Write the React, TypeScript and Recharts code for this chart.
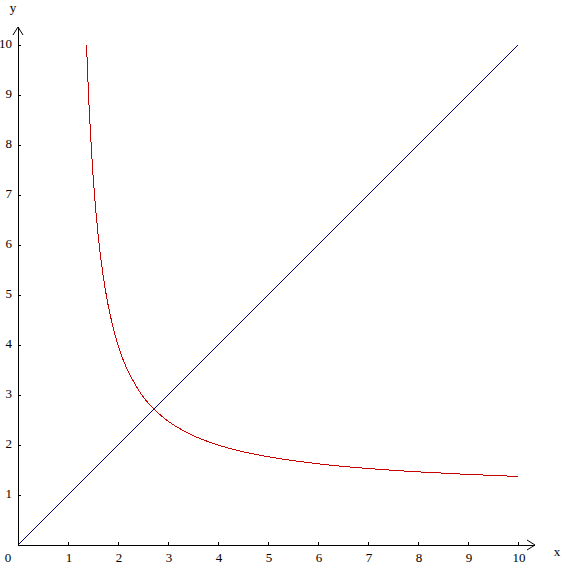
import React from "react";
import { LineChart, Line, XAxis, YAxis, ReferenceDot } from "recharts";

// y = x diagonal
const lineX = [0, 10];
const lineY = [0, 10];

// red curve
const curveX = [1.371, 1.38, 1.39, 1.4, 1.42, 1.45, 1.5, 1.55, 1.6, 1.7, 1.8, 1.9, 2.0, 2.1, 2.2, 2.35, 2.478, 2.718, 3, 3.5, 4, 4.5, 5, 6, 7, 8, 9, 10];
const curveY = [10, 9.76, 9.5, 9.26, 8.81, 8.22, 7.41, 6.76, 6.22, 5.41, 4.81, 4.36, 4.0, 3.71, 3.48, 3.2, 3.0, 2.718, 2.478, 2.19, 2.0, 1.865, 1.766, 1.624, 1.53, 1.463, 1.412, 1.371];

const xTicks = [0, 1, 2, 3, 4, 5, 6, 7, 8, 9, 10];
const yTicks = [1, 2, 3, 4, 5, 6, 7, 8, 9, 10];

const lineData = lineX.map((x, i) => ({ x, y: lineY[i] }));
const curveData = curveX.map((x, i) => ({ x, y: curveY[i] }));

const font = "'Liberation Serif', 'Times New Roman', serif";

const XTick = (props: any) => {
  const { x, y, payload } = props;
  if (payload.value === 0) {
    return (
      <text x={x - 10} y={y + 17} textAnchor="middle" fontFamily={font} fontSize={13} fill="#000">
        0
      </text>
    );
  }
  return (
    <g>
      <line x1={x} y1={y} x2={x} y2={y - 3} stroke="#000" shapeRendering="crispEdges" />
      <text x={x + 1} y={y + 17} textAnchor="middle" fontFamily={font} fontSize={13} fill="#000">
        {payload.value}
      </text>
    </g>
  );
};

const YTick = (props: any) => {
  const { x, y, payload } = props;
  return (
    <g>
      <line x1={x} y1={y} x2={x + 3} y2={y} stroke="#000" shapeRendering="crispEdges" />
      <text x={x - 6} y={y + 3} textAnchor="end" fontFamily={font} fontSize={13} fill="#000">
        {payload.value}
      </text>
    </g>
  );
};

const XArrow = (props: any) => {
  const { cx, cy } = props;
  return (
    <g>
      <path d={`M${cx - 8},${cy - 5} L${cx},${cy} L${cx - 8},${cy + 5}`} stroke="#000" fill="none" />
      <text x={cx + 22} y={cy + 11} textAnchor="middle" fontFamily={font} fontSize={13} fill="#000">
        x
      </text>
    </g>
  );
};

const YArrow = (props: any) => {
  const { cx, cy } = props;
  return (
    <g>
      <path d={`M${cx - 5},${cy + 8} L${cx},${cy} L${cx + 5},${cy + 8}`} stroke="#000" fill="none" />
      <text x={cx - 5} y={cy - 15} textAnchor="middle" fontFamily={font} fontSize={13} fill="#000">
        y
      </text>
    </g>
  );
};

export default function App() {
  return (
    <div style={{ position: "absolute", left: 0, top: 0, background: "#fff" }}>
      <LineChart
        width={564}
        height={565}
        margin={{ top: 27, right: 29, left: 17, bottom: 19 }}
      >
        <XAxis
          type="number"
          dataKey="x"
          domain={[0, 10.34]}
          ticks={xTicks}
          interval={0}
          height={1}
          tickSize={0}
          tickMargin={0}
          tickLine={false}
          axisLine={{ stroke: "#000", shapeRendering: "crispEdges" }}
          tick={XTick}
        />
        <YAxis
          type="number"
          dataKey="y"
          domain={[0, 10.36]}
          ticks={yTicks}
          interval={0}
          width={1}
          tickSize={0}
          tickMargin={0}
          tickLine={false}
          axisLine={{ stroke: "#000", shapeRendering: "crispEdges" }}
          tick={YTick}
        />
        <Line
          data={lineData}
          dataKey="y"
          type="linear"
          stroke="#000080"
          strokeWidth={1}
          shapeRendering="crispEdges"
          dot={false}
          isAnimationActive={false}
        />
        <Line
          data={curveData}
          dataKey="y"
          type="monotone"
          stroke="#c80000"
          strokeWidth={1}
          shapeRendering="crispEdges"
          dot={false}
          isAnimationActive={false}
        />
        <ReferenceDot x={10.34} y={0} ifOverflow="visible" shape={XArrow} />
        <ReferenceDot x={0} y={10.36} ifOverflow="visible" shape={YArrow} />
      </LineChart>
    </div>
  );
}
